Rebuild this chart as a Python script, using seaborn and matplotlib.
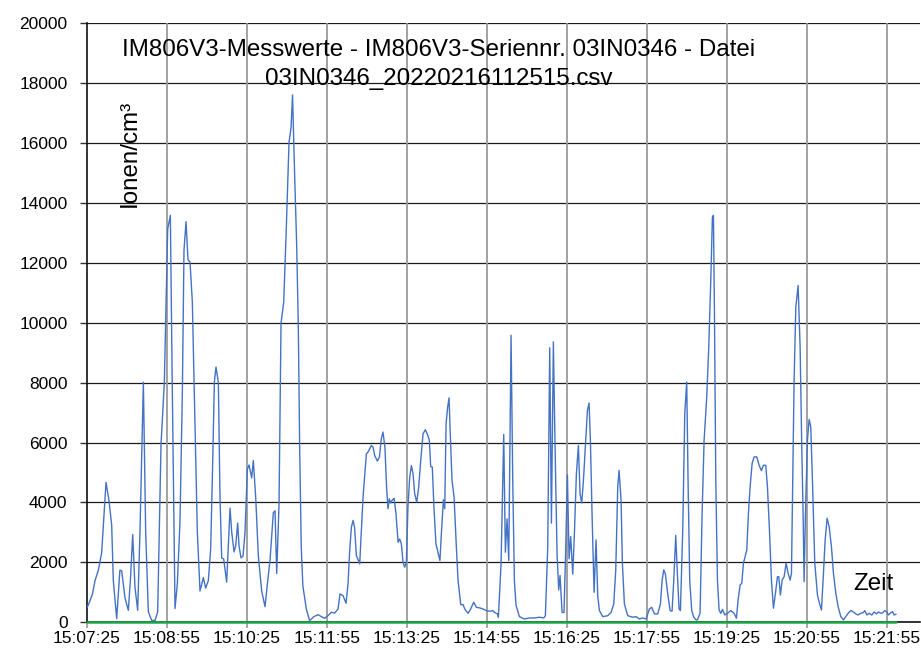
import matplotlib
matplotlib.use("Agg")
import matplotlib.pyplot as plt
import seaborn as sns
import pandas as pd
import numpy as np

# ---------------- data (seconds since 15:07:25, ions/cm3) ----------------
t_sec = [0, 1.5, 6, 9, 12.75, 16.5, 18.4, 21.4, 24.75, 27.75, 29.6, 33.4, 37, 39, 42.75, 46.5, 49, 51.4,
         54, 57, 59.6, 63.4, 66, 69, 72.75, 76.5, 79.5, 83.25, 87, 90.75, 93.75, 96, 99, 101.6, 104.6,
         107.25, 109.1, 111.4, 113.6, 115.9, 118.5, 121.5, 124.1, 127.1, 130.9, 133.5, 136.5, 139.1,
         141.4, 143.25, 145.1, 147.75, 149.6, 151.5, 153.75, 157.1, 159, 160.9, 162.75, 165.4, 167.25,
         169.5, 171, 173.25, 175.5, 177.75, 180.4, 182.25, 185.25, 187.1, 189.75, 192.75, 196.5, 200.25,
         202.9, 205.9, 209.6, 211.5, 213.4, 216, 218.25, 221.25, 223.9, 227.25, 229.5, 231.2, 233.5,
         235.9, 237.7, 239.2, 241, 242.8, 246.7, 250.4, 255.3, 259.9, 263.6, 267.4, 271, 274.9, 278.6,
         282.4, 284.6, 288, 291.4, 293.6, 295.5, 297.4, 299.25, 301, 303, 306.75, 308.6, 310.5, 314.25,
         316, 319.9, 321.75, 323.6, 326.6, 328.9, 331, 332.9, 335.1, 337, 338.6, 340, 341.6, 343, 345.4,
         347.6, 349.9, 351.75, 353.6, 355.5, 357.4, 359.25, 361, 363, 364.9, 366.75, 368.6, 370.9, 373.1,
         375.4, 378, 380.6, 382.9, 385, 386.6, 388.4, 390.25, 392.5, 394.75, 397, 398.6, 400.9, 402.4,
         403.9, 405.75, 407.25, 408.75, 410.6, 412.9, 415.5, 417.4, 420.4, 423, 424.9, 428.6, 431.6, 435,
         438, 441.75, 445.5, 449.25, 453, 456.75, 458.25, 462, 462.75, 465.75, 468.75, 470.6, 472.5,
         474.4, 477, 478.9, 480.75, 482.6, 486.4, 492, 497.6, 503.25, 508.9, 513.75, 515.6, 518.25,
         520.5, 522.4, 524.6, 526.5, 528.75, 530.6, 532.1, 534.4, 536.6, 538.5, 540.4, 542.25, 544.1,
         546.4, 548.25, 550.5, 552.75, 554.6, 556.5, 558.4, 561, 562.9, 564.75, 566.25, 568.1, 570.4,
         572.6, 574.5, 576.4, 580.1, 585.75, 589.5, 592.5, 594.75, 597, 598.5, 600.75, 602.25, 604.5,
         608.25, 613.9, 617.6, 621.4, 625, 628.9, 630.75, 632.6, 635.25, 638.25, 642, 645, 646.9, 648.75,
         650.6, 653.25, 655.9, 658.1, 660, 662.25, 664.1, 666, 667.5, 670.1, 672.4, 674.6, 676.1, 678,
         680.25, 682.5, 685.1, 686.6, 689.6, 691.9, 694.15, 697.1, 699.4, 701.65, 703.5, 704.65, 705.8,
         707.3, 709.15, 711, 712.9, 714.8, 717.4, 720.4, 724.15, 727.9, 730.5, 732.4, 734.65, 736.5,
         738.4, 742.15, 744, 745.9, 748.15, 750.4, 753.4, 756, 758.65, 760.9, 763.5, 765.4, 767.65,
         769.9, 772.15, 774.4, 776.65, 778.15, 780, 781.9, 784.15, 786.4, 788.65, 790.9, 792.4, 793.9,
         795.4, 797.3, 799.9, 802.15, 804, 805.5, 806.65, 808.15, 810.4, 812.3, 814.15, 816, 818.65,
         821.65, 823.9, 826.15, 828, 830.3, 832.5, 834.8, 837.4, 839.65, 842.3, 844.9, 847.9, 850.9,
         853.5, 856.15, 859.15, 862.15, 864.8, 867.4, 870.4, 873, 874.9, 877.15, 879.8, 882.8, 885.4,
         888, 890.3, 892.9, 895.15, 897.4, 899.65, 901.5, 903.4, 906, 907.9, 910.15]

ions = [500, 580, 930, 1390, 1740, 2320, 3250, 4670, 4060, 3250, 1390, 120, 1740, 1720, 810, 400, 1500, 2930,
        1160, 400, 3020, 8010, 3020, 350, 60, 60, 350, 5920, 8010, 13120, 13580, 7660, 460, 1280, 3370,
        7660, 12420, 13370, 12100, 12020, 10680, 6500, 3020, 1045, 1490, 1140, 1390, 2440,
        5340, 8010, 8520, 8010, 4180, 2150, 2110, 1340, 2550, 3810, 3020, 2350, 2550,
        3310, 2550, 2150, 2210, 3020, 5110, 5250, 4820, 5400, 4180, 2210, 1045, 520,
        1280, 2090, 3660, 3720, 1630, 3950, 9980, 10680, 12890, 16020, 16500, 17600, 15000,
        12540, 9870, 5850, 2500, 1220, 445, 55, 190, 255, 190, 135, 220, 335, 310,
        445, 945, 890, 635, 1280, 2390, 3170, 3400, 3170, 2230, 1950, 3060, 4180, 5620,
        5680, 5900, 5850, 5570, 5380, 5510, 6120, 6350, 5850, 4510, 3790, 4120, 3980, 4065, 4140,
        3620, 2670, 2780, 2620, 2000, 1840, 2000, 3840, 4840, 5230, 4960, 4290, 4010, 4510,
        5400, 6290, 6430, 6270, 6090, 5200, 5180, 3840, 2620, 2340, 2060, 2950, 4090, 3790,
        6630, 7200, 7490, 6180, 4730, 4180, 2500, 1390, 590, 590, 445, 300, 445, 670,
        500, 480, 445, 390, 370, 390, 330, 280, 170, 1950, 6270, 2340, 3450,
        2060, 9580, 4730, 1390, 560, 190, 110, 145, 145, 170, 145, 220, 2500,
        9160, 3310, 9360, 5850, 2280, 1080, 1560, 330, 330, 2500, 4920, 2120, 2860,
        1610, 2950, 4960, 5900, 4290, 3980, 4730, 6070, 7070, 7320, 6070, 3620, 1000,
        2750, 890, 390, 190, 220, 330, 610, 1730, 4510, 5070, 4070, 1950, 610,
        220, 170, 190, 110, 145, 110, 280, 445, 500, 280, 280, 610, 1390, 1750,
        1615, 950, 390, 370, 1390, 2900, 1615, 445, 390, 3060, 6960, 8020, 4730, 1390,
        390, 170, 80, 80, 300, 3630, 6080, 7520, 9190, 11410, 13520, 13580, 10300,
        4740, 1410, 410, 300, 430, 245, 300, 390, 300, 135, 745, 1245, 1300,
        1970, 2410, 3630, 4520, 5300, 5520, 5520, 5240, 5060, 5240, 5240, 4520, 3080,
        1410, 470, 970, 1520, 1520, 910, 1410, 1520, 1970, 1630, 1410, 1630, 4740,
        8080, 10520, 11240, 9190, 5850, 3630, 1355, 3630, 6080, 6770, 6520, 4740, 1970,
        910, 630, 410, 1410, 2740, 3470, 3190, 2520, 1630, 970, 520, 190, 80,
        190, 300, 390, 345, 280, 245, 300, 320, 390, 245, 300, 245, 345,
        280, 345, 300, 320, 390, 345, 245, 300, 355, 245, 270]

tick_pos = [0, 90, 180, 270, 360, 450, 540, 630, 720, 810, 900]
tick_labels = ["15:07:25", "15:08:55", "15:10:25", "15:11:55", "15:13:25", "15:14:55",
               "15:16:25", "15:17:55", "15:19:25", "15:20:55", "15:21:55"]
y_ticks = [0, 2000, 4000, 6000, 8000, 10000, 12000, 14000, 16000, 18000, 20000]

title_line1 = "IM806V3-Messwerte - IM806V3-Seriennr. 03IN0346 - Datei"
title_line2 = "03IN0346_20220216112515.csv"

# ---------------- figure ----------------
sns.set_theme(style="white")
plt.rcParams["font.family"] = ["Liberation Sans", "DejaVu Sans"]

df = pd.DataFrame({"t": t_sec, "ions": ions})
df["zero"] = 0

fig = plt.figure(figsize=(9.21, 6.51), dpi=100)
ax = fig.add_axes([87 / 921, (651 - 622.3) / 651, 833 / 921, 599.3 / 651])

sns.lineplot(data=df, x="t", y="ions", ax=ax, color="#4472C4", linewidth=1.0, zorder=3)
sns.lineplot(data=df, x="t", y="zero", ax=ax, color="#1FA84A", linewidth=1.8, zorder=4, clip_on=False)

ax.set_xlim(0, 937)
ax.set_ylim(0, 20000)
ax.set_xticks(tick_pos)
ax.set_xticklabels(tick_labels)
ax.set_yticks(y_ticks)
ax.set_yticklabels([str(v) for v in y_ticks])
ax.set_xlabel("")
ax.set_ylabel("")

ax.grid(False)
for yv in y_ticks:
    ax.axhline(yv, color="#1a1a1a", linewidth=0.9, zorder=1)
for xv in tick_pos[1:]:
    ax.axvline(xv, color="#9a9a9a", linewidth=1.3, zorder=1)

for side in ["top", "right"]:
    ax.spines[side].set_visible(False)
ax.spines["left"].set_color("#111111")
ax.spines["left"].set_linewidth(1.2)
ax.spines["bottom"].set_color("#111111")
ax.spines["bottom"].set_linewidth(1.2)

ax.tick_params(axis="y", which="major", left=True, length=5, width=1.0, color="#333333",
               pad=9, labelsize=12.5, labelcolor="black")
ax.tick_params(axis="x", which="major", bottom=True, length=4, width=1.2, color="#9a9a9a",
               pad=2, labelsize=12.5, labelcolor="black")

fig.text(439 / 921, 1 - 56.5 / 651, title_line1, ha="center", va="baseline", fontsize=17.4, color="black")
fig.text(438.5 / 921, 1 - 85 / 651, title_line2, ha="center", va="baseline", fontsize=17.4, color="black")
fig.text(130 / 921, 1 - 153 / 651, "Ionen/cm³", rotation=90, ha="center", va="center", fontsize=17.4, color="black")
fig.text(873 / 921, 1 - 590 / 651, "Zeit", ha="center", va="baseline", fontsize=17.4, color="black")

fig.savefig("out.png", dpi=100)
